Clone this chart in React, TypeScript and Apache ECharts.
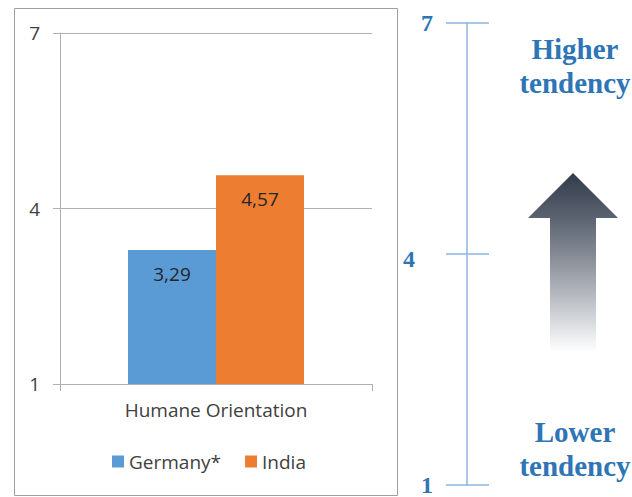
import React, { useEffect, useRef } from "react";
import * as echarts from "echarts";

const categories = ["Humane Orientation"];
const seriesNames = ["Germany*", "India"];
const germanyValues = [3.29];
const indiaValues = [4.57];
const scaleMin = 1;
const scaleMax = 7;
const scaleStep = 3;
const topNote = "Higher\ntendency";
const bottomNote = "Lower\ntendency";

const SANS = "'Open Sans', 'Noto Sans', sans-serif";
const SERIF = "'Liberation Serif', 'DejaVu Serif', serif";
const BLUE_TEXT = "#2e75b6";
const GRID_GRAY = "#b0b0b0";
const FS = 19;

export default function App() {
  const ref = useRef<HTMLDivElement>(null);

  useEffect(() => {
    if (!ref.current) return;
    const chart = echarts.init(ref.current, undefined, { renderer: "svg" });
    const fmt = (v: number) => String(v).replace(".", ",");
    const option: any = {
      animation: false,
      backgroundColor: "#ffffff",
      grid: [
        { left: 60, top: 33, width: 312, height: 351 },
        { left: 467, top: 23, width: 10, bottom: 9 },
      ],
      xAxis: [
        {
          type: "category",
          gridIndex: 0,
          data: categories,
          axisLine: { show: true, lineStyle: { color: GRID_GRAY, width: 1 } },
          axisTick: { show: true, length: 7, lineStyle: { color: GRID_GRAY } },
          axisLabel: { margin: 16, color: "#404040", fontFamily: SANS, fontSize: FS },
        },
        { type: "value", gridIndex: 1, show: false, min: 0, max: 1 },
      ],
      yAxis: [
        {
          type: "value",
          gridIndex: 0,
          min: scaleMin,
          max: scaleMax,
          interval: scaleStep,
          axisLine: { show: true, lineStyle: { color: GRID_GRAY, width: 1 } },
          axisTick: { show: true, length: 7, lineStyle: { color: GRID_GRAY } },
          splitLine: { show: true, lineStyle: { color: GRID_GRAY, width: 1 } },
          axisLabel: { margin: 20, color: "#404040", fontFamily: SANS, fontSize: FS },
        },
        {
          type: "value",
          gridIndex: 1,
          min: scaleMin,
          max: scaleMax,
          interval: scaleStep,
          position: "left",
          axisLine: { show: true, lineStyle: { color: "#8db4e2", width: 1.5 } },
          axisTick: { show: true, length: 21, lineStyle: { color: "#8db4e2", width: 1.5 } },
          splitLine: { show: false },
          axisLabel: {
            margin: 34,
            formatter: (v: number) => (v === 4 ? `{m|${v}}` : `{n|${v}}`),
            rich: {
              n: { fontFamily: SERIF, fontWeight: "bold", fontSize: 24, color: BLUE_TEXT },
              m: {
                fontFamily: SERIF,
                fontWeight: "bold",
                fontSize: 24,
                color: BLUE_TEXT,
                padding: [10, 18, 0, 0],
              },
            },
          },
        },
        {
          type: "value",
          gridIndex: 1,
          min: scaleMin,
          max: scaleMax,
          interval: scaleStep,
          position: "left",
          axisLine: { show: false },
          axisTick: { show: true, inside: true, length: 22, lineStyle: { color: "#8db4e2", width: 1.5 } },
          splitLine: { show: false },
          axisLabel: { show: false },
        },
      ],
      legend: {
        left: 112,
        top: 452,
        padding: 0,
        itemWidth: 12,
        itemHeight: 12,
        itemGap: 24,
        icon: "rect",
        textStyle: { color: "#404040", fontFamily: SANS, fontSize: FS },
        data: seriesNames,
      },
      series: [
        {
          name: seriesNames[0],
          type: "bar",
          xAxisIndex: 0,
          yAxisIndex: 0,
          data: germanyValues,
          barWidth: 88,
          barGap: "0%",
          itemStyle: { color: "#5b9bd5" },
          label: {
            show: true,
            position: "insideTop",
            distance: 14,
            formatter: (p: any) => fmt(p.value),
            color: "#262626",
            fontFamily: SANS,
            fontSize: FS,
          },
        },
        {
          name: seriesNames[1],
          type: "bar",
          xAxisIndex: 0,
          yAxisIndex: 0,
          data: indiaValues,
          barWidth: 88,
          barGap: "0%",
          itemStyle: { color: "#ed7d31" },
          label: {
            show: true,
            position: "insideTop",
            distance: 14,
            formatter: (p: any) => fmt(p.value),
            color: "#262626",
            fontFamily: SANS,
            fontSize: FS,
          },
        },
      ],
      graphic: [
        {
          type: "rect",
          silent: true,
          shape: { x: 14.5, y: 8.5, width: 383, height: 487 },
          style: { fill: "none", stroke: "#a0a0a0", lineWidth: 1 },
          z: -1,
        },
        {
          type: "polygon",
          silent: true,
          shape: {
            points: [
              [573, 173],
              [618, 218],
              [596, 218],
              [596, 352],
              [550, 352],
              [550, 218],
              [528, 218],
            ],
          },
          style: {
            fill: new echarts.graphic.LinearGradient(0, 0, 0, 1, [
              { offset: 0, color: "#323b4a" },
              { offset: 0.25, color: "#5b6371" },
              { offset: 0.5, color: "#8e939c" },
              { offset: 0.75, color: "#c5c8cd" },
              { offset: 1, color: "#ffffff" },
            ]),
          },
        },
        {
          type: "text",
          silent: true,
          x: 575,
          y: 66,
          style: {
            text: topNote,
            fill: BLUE_TEXT,
            font: `bold 29px ${SERIF}`,
            lineHeight: 34,
            align: "center",
            verticalAlign: "middle",
          },
        },
        {
          type: "text",
          silent: true,
          x: 575,
          y: 449,
          style: {
            text: bottomNote,
            fill: BLUE_TEXT,
            font: `bold 29px ${SERIF}`,
            lineHeight: 34,
            align: "center",
            verticalAlign: "middle",
          },
        },
      ],
    };
    chart.setOption(option);
    return () => chart.dispose();
  }, []);

  return (
    <div
      ref={ref}
      style={{ position: "fixed", left: 0, top: 0, width: 632, height: 497 }}
    />
  );
}
